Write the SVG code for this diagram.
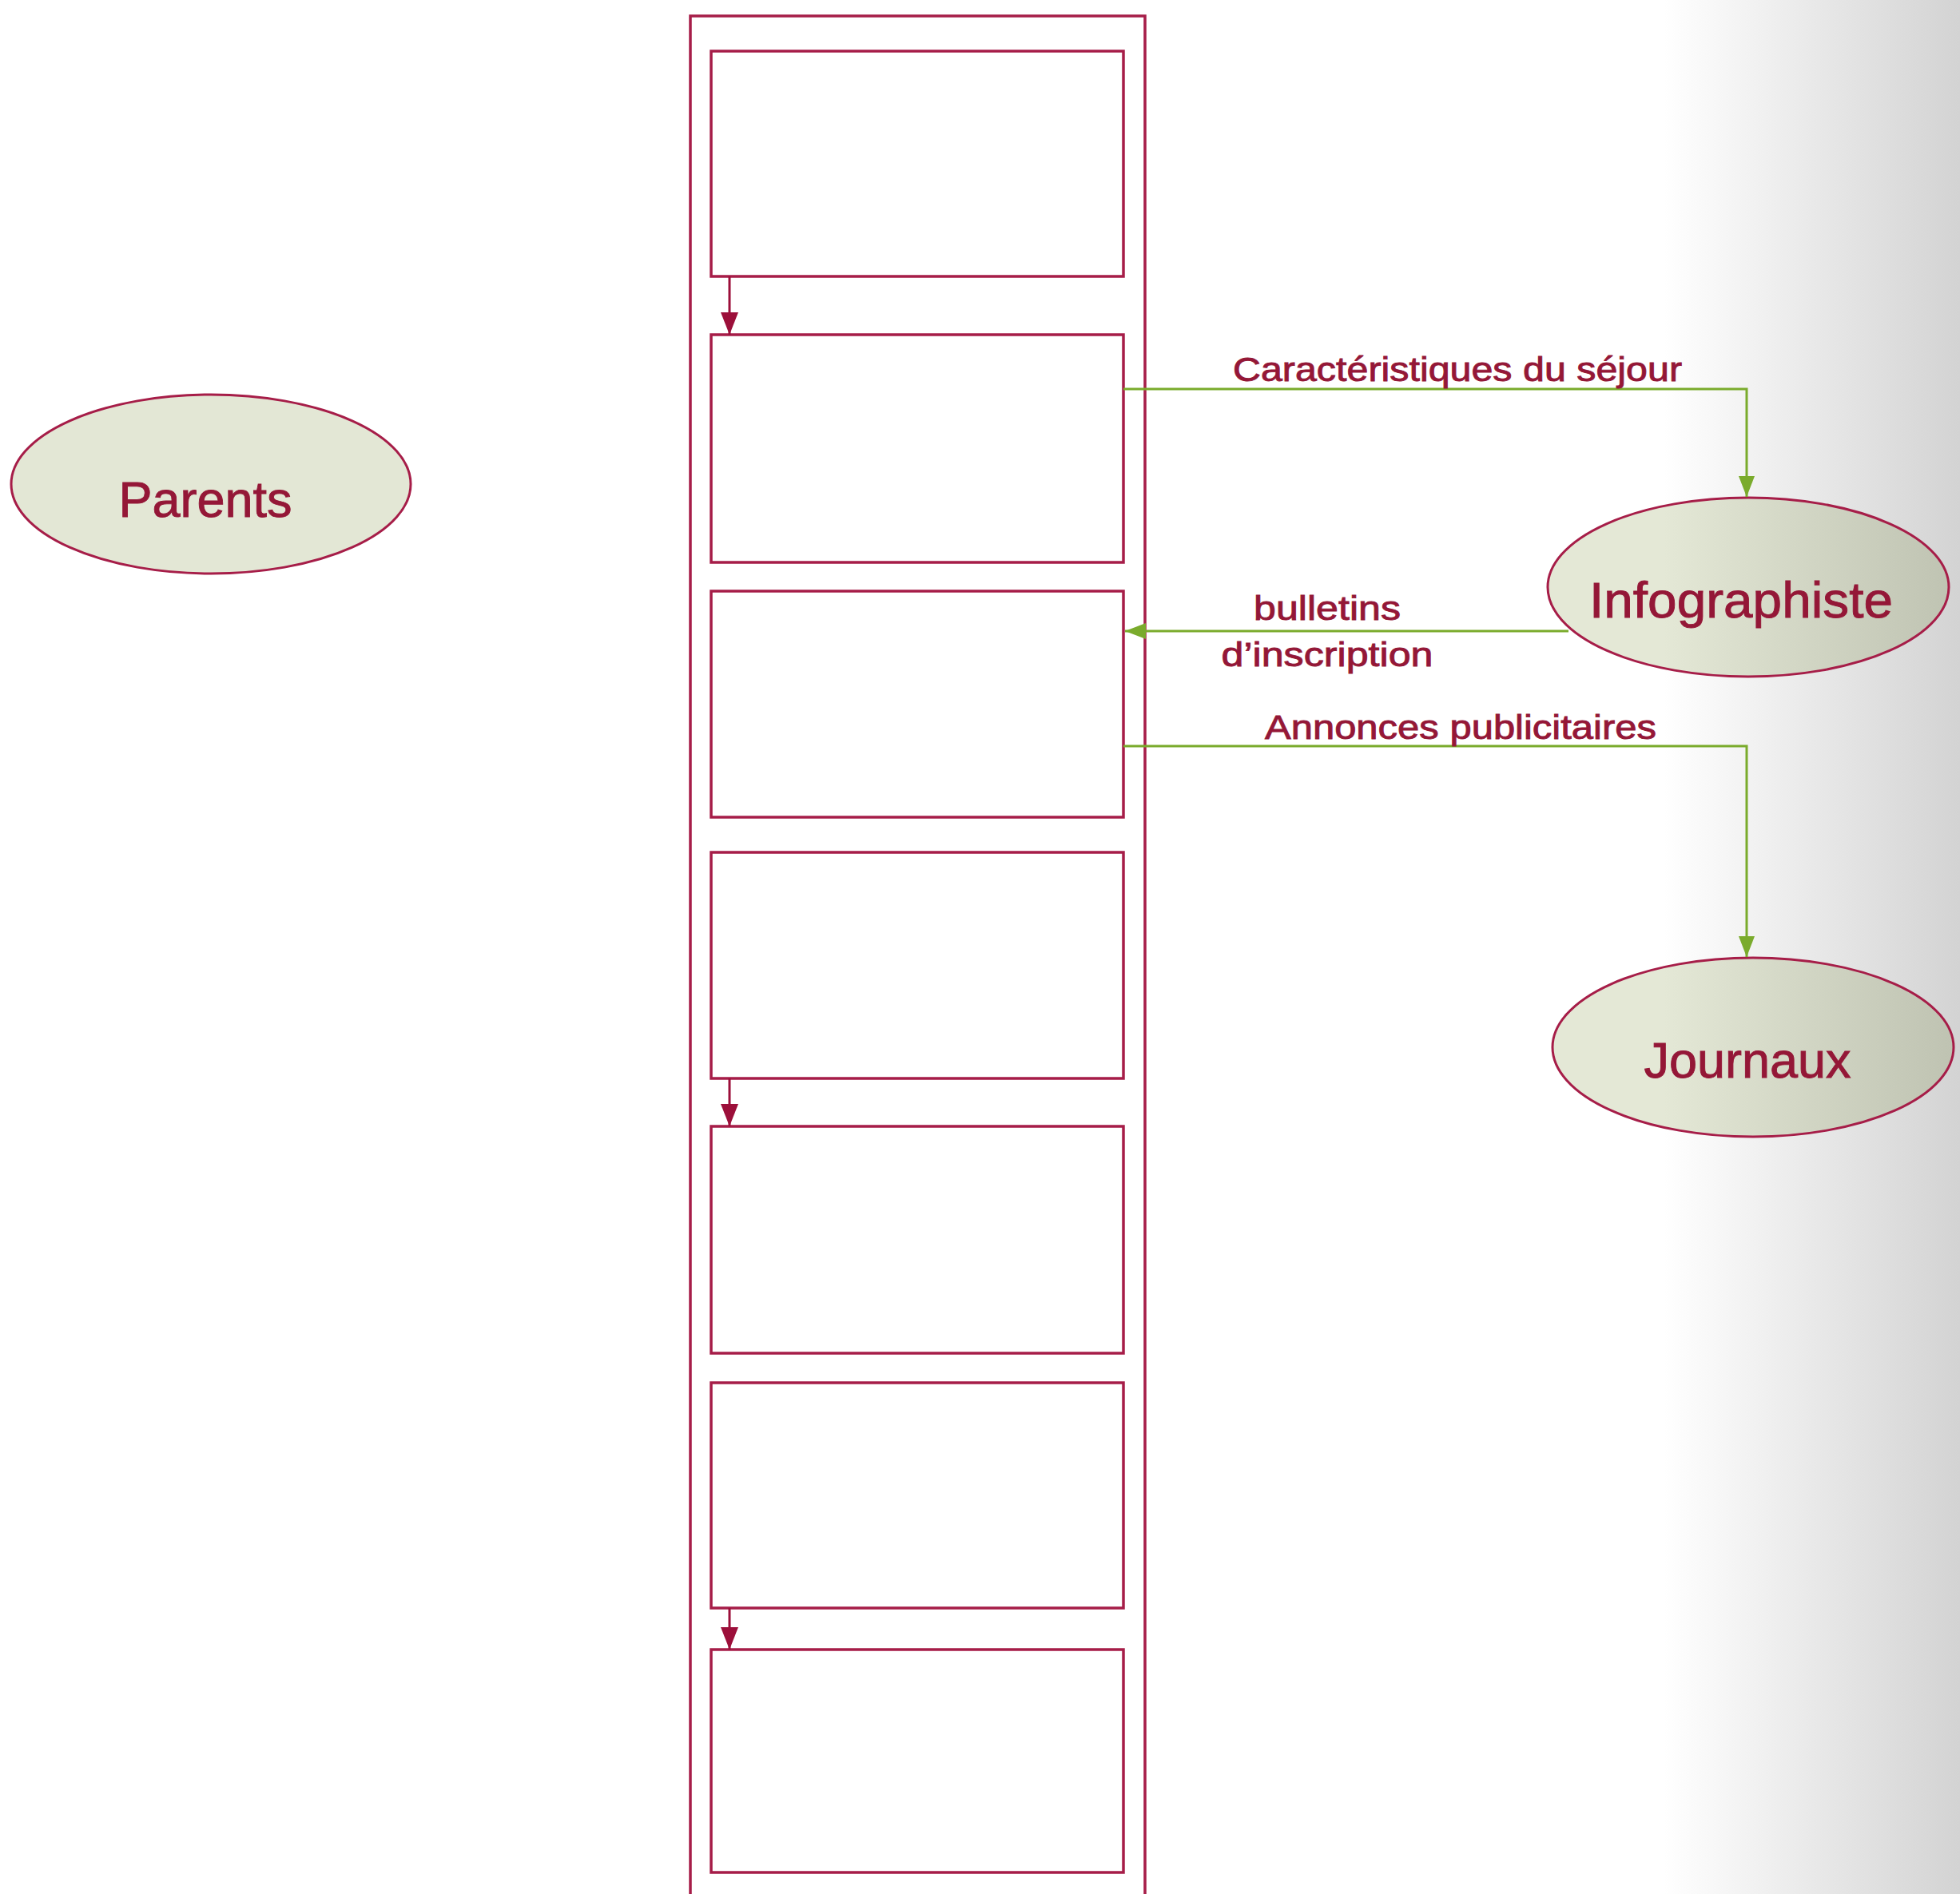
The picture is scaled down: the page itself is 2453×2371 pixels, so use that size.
<svg xmlns="http://www.w3.org/2000/svg" width="2453" height="2371" viewBox="0 0 2453 2371">
<defs>
<linearGradient id="bg" gradientUnits="userSpaceOnUse" x1="2082" y1="0" x2="2453" y2="0">
<stop offset="0" stop-color="#ffffff"/>
<stop offset="1" stop-color="#d3d3d3"/>
</linearGradient>
<linearGradient id="ell" gradientUnits="userSpaceOnUse" x1="2082" y1="0" x2="2453" y2="0">
<stop offset="0" stop-color="#e4e8d6"/>
<stop offset="1" stop-color="#bec2b1"/>
</linearGradient>
<marker id="ar" viewBox="0 0 28 22" refX="28" refY="11" markerWidth="28" markerHeight="22" markerUnits="userSpaceOnUse" orient="auto">
<path d="M0,0 L28,11 L0,22 z" fill="#9c0f3a"/>
</marker>
<marker id="ag" viewBox="0 0 26 20" refX="26" refY="10" markerWidth="26" markerHeight="20" markerUnits="userSpaceOnUse" orient="auto">
<path d="M0,0 L26,10 L0,20 z" fill="#7aab2c"/>
</marker>
<style>
.box{fill:#ffffff;stroke:#a61d48;stroke-width:3.5}
.outer{fill:none;stroke:#a61d48;stroke-width:3.5}
.ell{stroke:#a61d48;stroke-width:3}
.lbl{font-family:"Liberation Sans",Arial,sans-serif;fill:#941737;stroke:#941737;stroke-width:0.9;text-anchor:middle}
.big{font-size:63px}
.small{font-size:43px}
.red{fill:none;stroke:#9c0f3a;stroke-width:3}
.grn{fill:none;stroke:#7aab2c;stroke-width:3}
</style>
</defs>
<rect x="0" y="0" width="2453" height="2371" fill="#ffffff"/>
<rect x="2082" y="0" width="371" height="2371" fill="url(#bg)"/>

<g id="lane">
<path class="outer" d="M864,2375 L864,20 L1433,20 L1433,2375"/>
</g>
<g id="box1"><rect class="box" x="890" y="64" width="516" height="282"/></g>
<g id="box2"><rect class="box" x="890" y="419" width="516" height="285"/></g>
<g id="box3"><rect class="box" x="890" y="740" width="516" height="283"/></g>
<g id="box4"><rect class="box" x="890" y="1067" width="516" height="283"/></g>
<g id="box5"><rect class="box" x="890" y="1410" width="516" height="284"/></g>
<g id="box6"><rect class="box" x="890" y="1731" width="516" height="282"/></g>
<g id="box7"><rect class="box" x="890" y="2065" width="516" height="279"/></g>

<g id="parents">
<ellipse class="ell" cx="264" cy="606" rx="250" ry="112" fill="#e3e7d5"/>
<text class="lbl big" x="257" y="647">Parents</text>
</g>
<g id="infographiste">
<ellipse class="ell" cx="2188" cy="735" rx="251" ry="112" fill="url(#ell)"/>
<text class="lbl big" x="2179" y="773" textLength="380" lengthAdjust="spacingAndGlyphs">Infographiste</text>
</g>
<g id="journaux">
<ellipse class="ell" cx="2194" cy="1311" rx="251" ry="112" fill="url(#ell)"/>
<text class="lbl big" x="2187" y="1349">Journaux</text>
</g>

<g id="connectors">
<path class="red" d="M913,346 L913,419" marker-end="url(#ar)"/>
<path class="red" d="M913,1350 L913,1410" marker-end="url(#ar)"/>
<path class="red" d="M913,2013 L913,2065" marker-end="url(#ar)"/>
<path class="grn" d="M1406,487 L2186,487 L2186,622" marker-end="url(#ag)"/>
<path class="grn" d="M1963,790 L1408,790" marker-end="url(#ag)"/>
<path class="grn" d="M1406,934 L2186,934 L2186,1198" marker-end="url(#ag)"/>
<text class="lbl small" x="1824" y="477" textLength="562" lengthAdjust="spacingAndGlyphs">Caractéristiques du séjour</text>
<text class="lbl small" x="1661" y="776" textLength="184" lengthAdjust="spacingAndGlyphs">bulletins</text>
<text class="lbl small" x="1661" y="834" textLength="265" lengthAdjust="spacingAndGlyphs">d’inscription</text>
<text class="lbl small" x="1828" y="925" textLength="490" lengthAdjust="spacingAndGlyphs">Annonces publicitaires</text>
</g>
</svg>
